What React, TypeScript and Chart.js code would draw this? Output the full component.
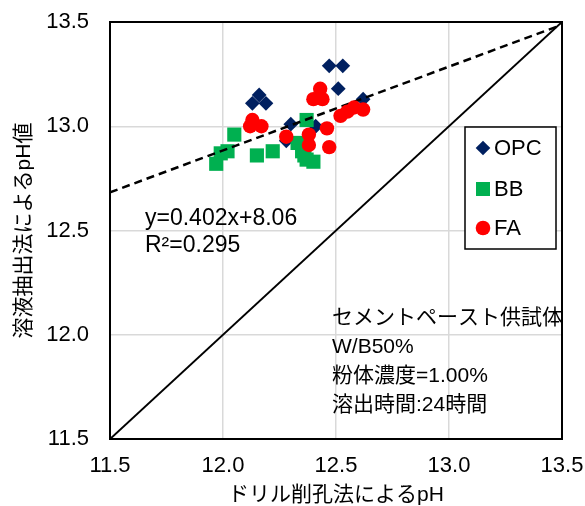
import { useEffect, useRef } from "react";
import { Chart, registerables } from "chart.js";

Chart.register(...registerables);

// OPC specimens: drill-hole pH vs. extraction pH
const opcX = [12.47, 12.53, 12.51, 12.62, 12.16, 12.13, 12.19, 12.30, 12.28, 12.41];
const opcY = [13.29, 13.29, 13.18, 13.13, 13.15, 13.11, 13.11, 13.01, 12.93, 13.00];

// BB specimens
const bbX = [12.05, 12.02, 11.99, 11.97, 12.15, 12.22, 12.37, 12.33, 12.35, 12.37, 12.40, 12.36];
const bbY = [12.96, 12.88, 12.87, 12.82, 12.86, 12.88, 13.03, 12.92, 12.88, 12.84, 12.83, 12.86];

// FA specimens
const faX = [12.43, 12.40, 12.44, 12.13, 12.12, 12.17, 12.28, 12.38, 12.38, 12.46, 12.47, 12.52, 12.55, 12.58, 12.62];
const faY = [13.18, 13.13, 13.13, 13.03, 13.00, 13.00, 12.95, 12.96, 12.91, 12.99, 12.90, 13.05, 13.07, 13.09, 13.08];

// Linear fit shown on the chart
const fitSlope = 0.402;
const fitIntercept = 8.06;
const fitLabels = ["y=0.402x+8.06", "R\u00B2=0.295"];

const axisMin = 11.5;
const axisMax = 13.5;
const tickStep = 0.5;

const seriesNames = ["OPC", "BB", "FA"];
const seriesColors = ["#002060", "#00B050", "#FF0000"];
const seriesStyles = ["rectRot", "rect", "circle"];

const noteLines = ["セメントペースト供試体", "W/B50%", "粉体濃度=1.00%", "溶出時間:24時間"];

const xTitle = "ドリル削孔法によるpH";
const yTitle = "溶液抽出法によるpH値";

const LATIN = "'Liberation Sans', Arial, 'Noto Sans CJK JP', sans-serif";
const CJK = "'Liberation Sans', 'Noto Sans CJK JP', sans-serif";

const toPoints = (xs: number[], ys: number[]) => xs.map((x, i) => ({ x, y: ys[i] }));

function drawMarker(ctx: CanvasRenderingContext2D, style: string, x: number, y: number, color: string) {
  ctx.fillStyle = color;
  ctx.beginPath();
  if (style === "rectRot") {
    const r = 7.3;
    ctx.moveTo(x, y - r);
    ctx.lineTo(x + r, y);
    ctx.lineTo(x, y + r);
    ctx.lineTo(x - r, y);
    ctx.closePath();
  } else if (style === "rect") {
    const h = 7;
    ctx.rect(x - h, y - h, 2 * h, 2 * h);
  } else {
    ctx.arc(x, y, 7.3, 0, Math.PI * 2);
  }
  ctx.fill();
}

const zeroPad = (s: any) => {
  s.paddingTop = 0;
  s.paddingBottom = 0;
  s.paddingLeft = 0;
  s.paddingRight = 0;
};

const overlay = {
  id: "overlay",
  afterDraw(chart: any) {
    const { ctx, chartArea: a } = chart;
    ctx.save();

    // plot frame
    ctx.strokeStyle = "#000";
    ctx.lineWidth = 2;
    ctx.strokeRect(a.left, a.top, a.right - a.left, a.bottom - a.top);

    // fit equation
    ctx.fillStyle = "#000";
    ctx.textAlign = "left";
    ctx.textBaseline = "middle";
    ctx.font = `23px ${LATIN}`;
    ctx.fillText(fitLabels[0], 145, 219);
    ctx.fillText(fitLabels[1], 145, 246);

    // specimen notes
    ctx.font = `21px ${CJK}`;
    const noteY = [318, 347, 376, 405];
    noteLines.forEach((t, i) => ctx.fillText(t, 332, noteY[i]));

    // legend box
    const lx = 465, ly = 127, lw = 91, lh = 122;
    ctx.fillStyle = "#fff";
    ctx.fillRect(lx, ly, lw, lh);
    ctx.strokeStyle = "#000";
    ctx.lineWidth = 1.5;
    ctx.strokeRect(lx, ly, lw, lh);
    const rowY = [148, 189, 228];
    ctx.font = `22px ${LATIN}`;
    seriesNames.forEach((name, i) => {
      drawMarker(ctx, seriesStyles[i], 483, rowY[i], seriesColors[i]);
      ctx.fillStyle = "#000";
      ctx.fillText(name, 494, rowY[i] + 1);
    });

    ctx.restore();
  },
};

export default function App() {
  const ref = useRef<HTMLCanvasElement>(null);

  useEffect(() => {
    if (!ref.current) return;
    const chart = new Chart(ref.current, {
      type: "scatter",
      data: {
        datasets: [
          {
            label: seriesNames[2],
            data: toPoints(faX, faY),
            pointStyle: "circle",
            pointRadius: 7.2,
            backgroundColor: seriesColors[2],
            borderColor: seriesColors[2],
            borderWidth: 0,
            order: 0,
          },
          {
            type: "line",
            label: "fit",
            data: [axisMin, axisMax].map((x) => ({ x, y: fitSlope * x + fitIntercept })),
            borderColor: "#000",
            borderWidth: 2.5,
            borderDash: [8, 5],
            pointRadius: 0,
            fill: false,
            order: 1,
          } as any,
          {
            label: seriesNames[1],
            data: toPoints(bbX, bbY),
            pointStyle: "rect",
            pointRadius: 10,
            backgroundColor: seriesColors[1],
            borderColor: seriesColors[1],
            borderWidth: 0,
            order: 2,
          },
          {
            label: seriesNames[0],
            data: toPoints(opcX, opcY),
            pointStyle: "rectRot",
            pointRadius: 7.4,
            backgroundColor: seriesColors[0],
            borderColor: seriesColors[0],
            borderWidth: 0,
            order: 3,
          },
          {
            type: "line",
            label: "1:1",
            data: [
              { x: axisMin, y: axisMin },
              { x: axisMax, y: axisMax },
            ],
            borderColor: "#000",
            borderWidth: 2,
            pointRadius: 0,
            fill: false,
            order: 4,
          } as any,
        ],
      },
      options: {
        responsive: false,
        animation: false,
        layout: { padding: { left: 0, top: 22, right: 23, bottom: 0 } },
        plugins: { legend: { display: false }, tooltip: { enabled: false } },
        scales: {
          x: {
            type: "linear",
            min: axisMin,
            max: axisMax,
            afterFit: (s: any) => {
              s.height = 67;
              zeroPad(s);
            },
            ticks: {
              stepSize: tickStep,
              autoSkip: false,
              maxRotation: 0,
              padding: 14,
              color: "#000",
              font: { size: 22, family: LATIN },
              callback: (v: any) => Number(v).toFixed(1),
            },
            grid: { color: "#d9d9d9", lineWidth: 1.5, drawTicks: false },
            border: { display: false },
            title: {
              display: true,
              text: xTitle,
              color: "#000",
              font: { size: 21, family: CJK, lineHeight: 1 },
              padding: { top: 0, bottom: 0 },
            },
          },
          y: {
            type: "linear",
            min: axisMin,
            max: axisMax,
            afterFit: (s: any) => {
              s.width = 110;
              zeroPad(s);
            },
            ticks: {
              stepSize: tickStep,
              autoSkip: false,
              padding: 21,
              color: "#000",
              font: { size: 22, family: LATIN },
              callback: (v: any) => Number(v).toFixed(1),
            },
            grid: { color: "#d9d9d9", lineWidth: 1.5, drawTicks: false },
            border: { display: false },
            title: {
              display: true,
              text: yTitle,
              color: "#000",
              font: { size: 21, family: CJK, lineHeight: 1 },
              padding: { top: 14, bottom: 0 },
            },
          },
        },
      },
      plugins: [overlay],
    });
    return () => chart.destroy();
  }, []);

  return (
    <div style={{ position: "absolute", left: 0, top: 0, width: 585, height: 506, background: "#fff" }}>
      <canvas ref={ref} width={585} height={506} />
    </div>
  );
}
